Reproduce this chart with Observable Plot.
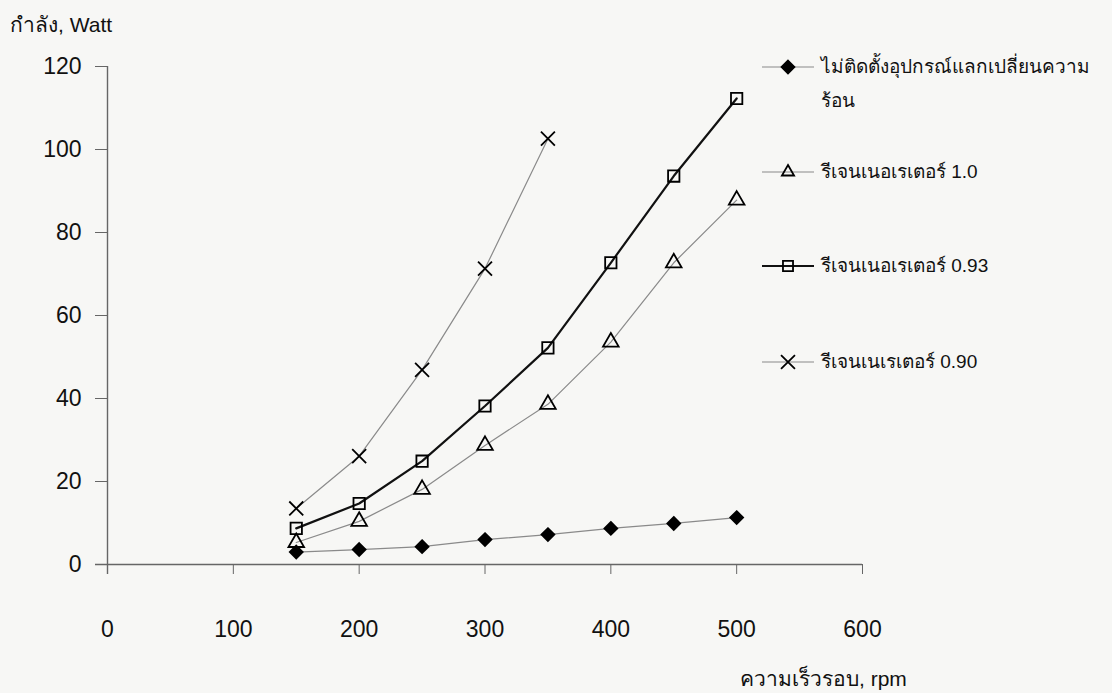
<!DOCTYPE html>
<html><head><meta charset="utf-8">
<script src="https://cdn.jsdelivr.net/npm/d3@7"></script>
<script src="https://cdn.jsdelivr.net/npm/@observablehq/plot@0.6"></script>
<style>
body{margin:0;background:#f7f7f5;}
#wrap{position:relative;width:1112px;height:693px;font-family:"Liberation Sans",Arial,sans-serif;color:#111;overflow:hidden;}
.ttl{position:absolute;font-size:21px;white-space:nowrap;line-height:1;}
.leg{position:absolute;left:760px;font-size:19px;line-height:34px;}
.leg svg{position:absolute;left:0;top:0;}
.leg span{position:absolute;left:61px;top:0;white-space:pre;}
</style></head><body><div id="wrap"></div>
<script>
// ---- data ----
const rpm = [150, 200, 250, 300, 350, 400, 450, 500];
const rpm090 = [150, 200, 250, 300, 350];
const noExchanger = [3.0, 3.6, 4.3, 6.0, 7.2, 8.7, 9.9, 11.3];
const regen100 = [5.3, 10.4, 18.1, 28.7, 38.6, 53.6, 72.7, 87.8];
const regen093 = [8.7, 14.7, 24.9, 38.2, 52.2, 72.7, 93.6, 112.3];
const regen090 = [13.5, 26.1, 46.9, 71.3, 102.6];
const seriesNames = [
  "ไม่ติดตั้งอุปกรณ์แลกเปลี่ยนความ\nร้อน",
  "รีเจนเนอเรเตอร์ 1.0",
  "รีเจนเนอเรเตอร์ 0.93",
  "รีเจนเนเรเตอร์ 0.90"
];
const yTicks = [0, 20, 40, 60, 80, 100, 120];
const xTicks = [0, 100, 200, 300, 400, 500, 600];
const yTitle = "กำลัง, Watt";
const xTitle = "ความเร็วรอบ, rpm";

// ---- styles ----
const seriesX = [rpm, rpm, rpm, rpm090];
const seriesY = [noExchanger, regen100, regen093, regen090];
const styles = [
  {symbol: "diamond2", d3sym: d3.symbolDiamond2, fill: "#000", line: "#8a8a8a", lw: 1.2, r: 5.8},
  {symbol: "triangle", d3sym: d3.symbolTriangle2, fill: "none", line: "#8a8a8a", lw: 1.2, r: 5.8},
  {symbol: "square", d3sym: d3.symbolSquare2, fill: "none", line: "#111", lw: 2.2, r: 6.4},
  {symbol: "times", d3sym: d3.symbolTimes, fill: "none", line: "#8a8a8a", lw: 1.2, r: 6.4}
];

const rows = seriesNames.flatMap((name, i) =>
  seriesX[i].map((x, j) => ({series: i, rpm: x, power: seriesY[i][j]})));

const lineMarks = styles.map((s, i) =>
  Plot.line(rows.filter(d => d.series === i), {x: "rpm", y: "power", stroke: s.line, strokeWidth: s.lw}));
const dotMarks = styles.map((s, i) =>
  Plot.dot(rows.filter(d => d.series === i), {x: "rpm", y: "power", symbol: () => s.symbol, r: s.r,
    fill: s.fill, stroke: "#000", strokeWidth: 1.8}));

const chart = Plot.plot({
  width: 1112, height: 693,
  marginLeft: 107, marginRight: 250, marginTop: 66, marginBottom: 129,
  x: {domain: [0, 600]},
  y: {domain: [0, 120]},
  symbol: {type: "identity"},
  style: {background: "transparent", fontFamily: "Liberation Sans, Arial, sans-serif", color: "#111"},
  marks: [
    Plot.ruleY([0], {stroke: "#666", strokeWidth: 1.4, insetLeft: -12}),
    Plot.ruleX([0], {stroke: "#666", strokeWidth: 1.4, insetBottom: -10}),
    Plot.axisY(yTicks, {tickSize: 12, tickPadding: 14, label: null, stroke: "#666", fill: "#111", fontSize: 23}),
    Plot.axisX(xTicks, {tickSize: 10, tickPadding: 46, label: null, stroke: "#666", fill: "#111", fontSize: 23}),
    ...lineMarks,
    ...dotMarks
  ]
});

const wrap = document.getElementById("wrap");
wrap.appendChild(chart);

function addText(txt, left, top, cls) {
  const d = document.createElement("div");
  d.className = cls; d.textContent = txt;
  d.style.left = left + "px"; d.style.top = top + "px";
  wrap.appendChild(d);
}
addText(yTitle, 10, 14, "ttl");
addText(xTitle, 740, 668, "ttl");

// legend
const legendY = [67, 172, 266, 362];
styles.forEach((s, i) => {
  const g = document.createElement("div");
  g.className = "leg";
  g.style.top = (legendY[i] - 17) + "px";
  const path = d3.symbol(s.d3sym, Math.PI * s.r * s.r)();
  g.innerHTML = `<svg width="56" height="34"><line x1="2" x2="54" y1="17" y2="17" stroke="${s.line}" stroke-width="${s.lw}"/>` +
    `<path d="${path}" transform="translate(28,17)" fill="${s.fill}" stroke="#000" stroke-width="1.8"/></svg>`;
  const sp = document.createElement("span");
  sp.textContent = seriesNames[i];
  g.appendChild(sp);
  wrap.appendChild(g);
});
</script></body></html>
